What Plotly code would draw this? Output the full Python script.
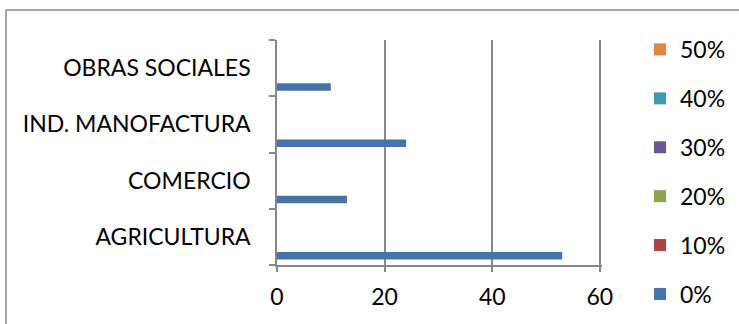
import plotly.graph_objects as go

categories = ["AGRICULTURA", "COMERCIO", "IND. MANOFACTURA", "OBRAS SOCIALES"]
series_names = ["0%", "10%", "20%", "30%", "40%", "50%"]
values_0 = [53, 13, 24, 10]
values_10 = [0, 0, 0, 0]
values_20 = [0, 0, 0, 0]
values_30 = [0, 0, 0, 0]
values_40 = [0, 0, 0, 0]
values_50 = [0, 0, 0, 0]
x_ticks = [0, 20, 40, 60]

series_values = [values_0, values_10, values_20, values_30, values_40, values_50]
colors = ["#4674AA", "#AA4543", "#89A64E", "#6F5795", "#3F9AB2", "#E0843E"]

W, H = 739, 324
L, R, T, B = 277, 602, 40, 265  # plot area in pixels

fig = go.Figure()
n = len(series_names)
for i, (name, vals, col) in enumerate(zip(series_names, series_values, colors)):
    fig.add_trace(go.Bar(
        y=categories, x=vals, name=name, orientation="h",
        marker=dict(color=col, line=dict(width=0)),
        legendgroup=name, legendrank=n - i,
    ))

font_family = "Lato, 'Open Sans', sans-serif"

def px_x(p):
    return (p - L) / (R - L)

def px_y(p):
    return (B - p) / (B - T)

fig.update_layout(
    width=W, height=H,
    margin=dict(l=L, r=W - R, t=T, b=H - B, pad=0, autoexpand=False),
    barmode="group", bargap=0.2, bargroupgap=0,
    plot_bgcolor="white", paper_bgcolor="white",
    font=dict(family=font_family, size=23, color="#000000"),
    showlegend=True,
    legend=dict(
        traceorder="grouped", tracegroupgap=16,
        x=px_x(640), y=px_y(28), xanchor="left", yanchor="top",
        font=dict(size=23), bgcolor="rgba(0,0,0,0)",
        itemwidth=30, maxheight=600,
    ),
    xaxis=dict(
        range=[0, 60.4], tickvals=x_ticks, showgrid=True,
        gridcolor="#878787", gridwidth=1.5,
        showline=True, linecolor="#878787", linewidth=1.5,
        ticks="outside", ticklen=5, tickcolor="#878787", tickwidth=1.5,
        tickfont=dict(size=23), zeroline=False, fixedrange=True,
        ticklabelstandoff=6,
    ),
    yaxis=dict(
        showgrid=False, showline=True, linecolor="#878787", linewidth=1.5,
        ticks="outside", ticklen=6, tickcolor="#878787", tickwidth=1.5,
        tickson="boundaries", tickfont=dict(size=23),
        ticklabelstandoff=20, fixedrange=True,
    ),
    shapes=[
        dict(type="line", xref="paper", yref="paper",
             x0=px_x(6), x1=px_x(745), y0=px_y(10), y1=px_y(10),
             line=dict(color="#878787", width=1.5)),
        dict(type="line", xref="paper", yref="paper",
             x0=px_x(6), x1=px_x(6), y0=px_y(10), y1=px_y(330),
             line=dict(color="#878787", width=1.5)),
    ],
)

fig.write_html("out.html")
